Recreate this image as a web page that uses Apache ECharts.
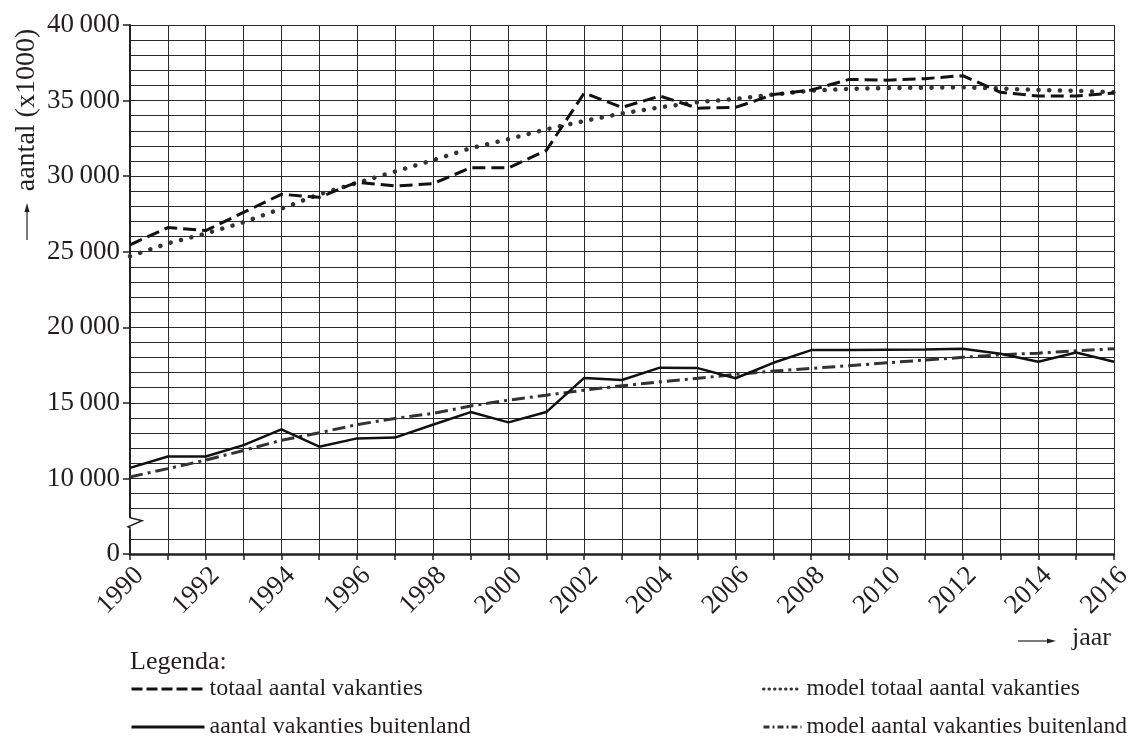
<!DOCTYPE html>
<html>
<head>
<meta charset="utf-8">
<script src="https://cdn.jsdelivr.net/npm/echarts@6/dist/echarts.min.js"></script>
<style>
html,body{margin:0;padding:0;background:#fff;}
#chart{width:1132px;height:751px;}
</style>
</head>
<body>
<div id="chart"></div>
<script>
var years = ['1990','1991','1992','1993','1994','1995','1996','1997','1998','1999','2000','2001','2002','2003','2004','2005','2006','2007','2008','2009','2010','2011','2012','2013','2014','2015','2016'];
var totaal = [25450, 26600, 26400, 27600, 28800, 28600, 29600, 29350, 29500, 30550, 30550, 31700, 35500, 34550, 35300, 34500, 34550, 35400, 35700, 36400, 36350, 36450, 36650, 35550, 35300, 35300, 35500];
var modelTotaal = [24700, 25550, 26200, 26950, 27850, 28800, 29550, 30300, 31050, 31850, 32450, 33100, 33650, 34150, 34550, 34900, 35100, 35400, 35650, 35780, 35830, 35850, 35880, 35800, 35700, 35650, 35550];
var buitenland = [10700, 11450, 11450, 12200, 13240, 12100, 12650, 12700, 13550, 14390, 13710, 14390, 16650, 16510, 17330, 17300, 16630, 17650, 18490, 18490, 18510, 18530, 18580, 18250, 17720, 18330, 17720];
var modelBuitenland = [10100, 10650, 11210, 11850, 12520, 13020, 13560, 13970, 14300, 14790, 15180, 15510, 15840, 16130, 16390, 16630, 16880, 17100, 17280, 17460, 17650, 17830, 18010, 18180, 18290, 18440, 18580];
var seriesNames = ['totaal aantal vakanties', 'aantal vakanties buitenland', 'model totaal aantal vakanties', 'model aantal vakanties buitenland'];
var yMin = 5000, yMax = 40000, yStep = 1000, yLabelStep = 5000;
var breakValue = 7000;

var FONT = 'Liberation Serif';
var TXT = '#231f20';

function fmt(v){
  if (v === yMin) return '0';
  if (v >= 10000 && v % yLabelStep === 0) {
    var s = String(v);
    return s.slice(0, s.length-3) + '\u2009' + s.slice(s.length-3);
  }
  return '';
}
var splitColors = [];
for (var v = yMin; v <= yMax; v += yStep) splitColors.push(v === breakValue ? 'rgba(0,0,0,0)' : '#2a2a2a');

var chart = echarts.init(document.getElementById('chart'), null, {renderer:'canvas'});
var hidden = {opacity: 0};
var option = {
  backgroundColor: '#fff',
  animation: false,
  grid: {left: 130, right: 18, top: 25, bottom: 197, show: false, containLabel: false, outerBoundsMode: 'none'},
  xAxis: {
    type: 'category', data: years, boundaryGap: false,
    axisLine: {lineStyle: {color: '#222', width: 2.5}},
    axisTick: {interval: 0, length: 6, lineStyle: {color: '#222', width: 1.5}},
    axisLabel: {interval: 1, rotate: 45, margin: 8, verticalAlign: 'top', hideOverlap: false, fontFamily: FONT, fontSize: 27, color: TXT},
    splitLine: {show: true, interval: 0, lineStyle: {color: '#2a2a2a', width: 1}}
  },
  yAxis: [{
    type: 'value', min: yMin, max: yMax, interval: yStep,
    axisLine: {show: true, lineStyle: {color: '#222', width: 2}},
    axisTick: {show: false},
    axisLabel: {show: false},
    splitLine: {show: true, lineStyle: {color: splitColors, width: 1}}
  }, {
    type: 'value', min: yMin, max: yMax, interval: yLabelStep, position: 'left',
    axisLine: {show: false},
    axisTick: {show: true, length: 7, lineStyle: {color: '#222', width: 1.5}},
    axisLabel: {formatter: fmt, margin: 10, fontFamily: FONT, fontSize: 27, color: TXT},
    splitLine: {show: false}
  }],
  legend: [{
    orient: 'vertical', left: 130, top: 677, padding: 0, itemGap: 14,
    itemWidth: 73, itemHeight: 14,
    textStyle: {fontFamily: FONT, fontSize: 24, color: TXT},
    data: [
      {name: seriesNames[0], itemStyle: hidden, lineStyle: {type: [11, 4], width: 3, color: '#111'}},
      {name: seriesNames[1], itemStyle: hidden, lineStyle: {type: 'solid', width: 3, color: '#111'}}
    ]
  }, {
    orient: 'vertical', left: 762, top: 677, padding: 0, itemGap: 14,
    itemWidth: 38, itemHeight: 14,
    textStyle: {fontFamily: FONT, fontSize: 23.5, color: TXT},
    data: [
      {name: seriesNames[2], itemStyle: hidden, lineStyle: {type: [0.5, 5], width: 3, cap: 'round', color: '#333'}},
      {name: seriesNames[3], itemStyle: hidden, lineStyle: {type: [6, 3, 2, 3], width: 3, color: '#333'}}
    ]
  }],
  series: [{
    name: seriesNames[0], type: 'line', data: totaal, symbol: 'none', z: 4, color: '#111',
    lineStyle: {color: '#111', width: 3, type: [13, 6]}
  }, {
    name: seriesNames[1], type: 'line', data: buitenland, symbol: 'none', z: 4, color: '#111',
    lineStyle: {color: '#111', width: 2.5, type: 'solid'}
  }, {
    name: seriesNames[2], type: 'line', data: modelTotaal, symbol: 'none', z: 3, color: '#333',
    lineStyle: {color: '#333', width: 4.5, type: [0.1, 10.6], cap: 'round'}
  }, {
    name: seriesNames[3], type: 'line', data: modelBuitenland, symbol: 'none', z: 3, color: '#333',
    lineStyle: {color: '#333', width: 3, type: [13, 5, 3, 5]}
  }]
};
chart.setOption(option);

var x0 = chart.convertToPixel({xAxisIndex: 0}, years[0]);
var yB = chart.convertToPixel({yAxisIndex: 0}, breakValue);

chart.setOption({
  graphic: [
    {type: 'rect', z: 100, shape: {x: x0 - 3, y: yB - 6, width: 6, height: 12}, style: {fill: '#fff'}},
    {type: 'polyline', z: 101, shape: {points: [[x0, yB - 7], [x0, yB - 6], [x0 + 12, yB - 3], [x0 - 2, yB + 3], [x0, yB + 4], [x0, yB + 7]]}, style: {stroke: '#222', lineWidth: 1.5, fill: null}},
    {type: 'text', z: 100, x: 27, y: 110, rotation: Math.PI / 2,
      style: {text: 'aantal (x1000)', font: '28px "Liberation Serif"', fill: TXT, textAlign: 'center', textVerticalAlign: 'middle'}},
    {type: 'line', z: 100, shape: {x1: 27, y1: 240, x2: 27, y2: 208}, style: {stroke: '#222', lineWidth: 1.2}},
    {type: 'polygon', z: 100, shape: {points: [[27, 203], [24.5, 212], [29.5, 212]]}, style: {fill: '#222'}},
    {type: 'line', z: 100, shape: {x1: 1018, y1: 641, x2: 1050, y2: 641}, style: {stroke: '#222', lineWidth: 1.2}},
    {type: 'polygon', z: 100, shape: {points: [[1056, 641], [1047, 638.5], [1047, 643.5]]}, style: {fill: '#222'}},
    {type: 'text', z: 100, x: 1072, y: 638,
      style: {text: 'jaar', font: '26px "Liberation Serif"', fill: TXT, textAlign: 'left', textVerticalAlign: 'middle'}},
    {type: 'text', z: 100, x: 130, y: 662,
      style: {text: 'Legenda:', font: '26px "Liberation Serif"', fill: TXT, textAlign: 'left', textVerticalAlign: 'middle'}}
  ]
});
</script>
</body>
</html>
